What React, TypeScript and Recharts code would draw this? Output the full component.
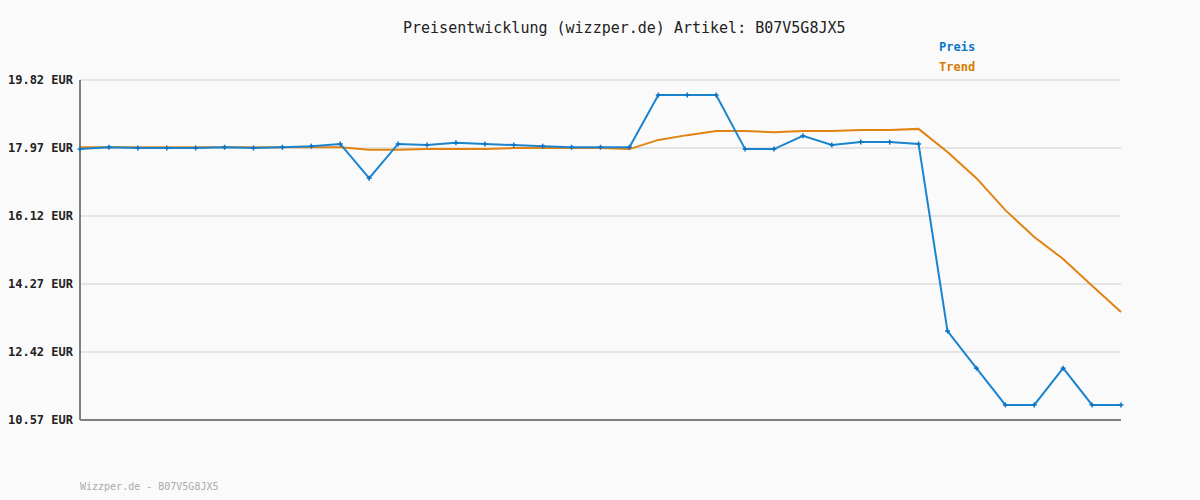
import React from 'react';
import { LineChart, Line, XAxis, YAxis, CartesianGrid, ReferenceLine } from 'recharts';

const preis = [
  17.94, 17.99, 17.97, 17.97, 17.97, 17.99, 17.97, 17.99, 18.02, 18.08,
  17.15, 18.08, 18.05, 18.11, 18.08, 18.05, 18.02, 17.99, 17.99, 17.99,
  19.41, 19.41, 19.41, 17.94, 17.94, 18.30, 18.05, 18.13, 18.13, 18.08,
  12.99, 11.98, 10.98, 10.98, 11.98, 10.98, 10.98,
];
const trend = [
  17.99, 17.99, 17.99, 17.99, 17.99, 17.99, 17.99, 17.99, 17.99, 17.99,
  17.92, 17.92, 17.94, 17.94, 17.94, 17.97, 17.97, 17.97, 17.97, 17.94,
  18.19, 18.32, 18.43, 18.43, 18.40, 18.43, 18.43, 18.46, 18.46, 18.49,
  17.86, 17.15, 16.28, 15.55, 14.95, 14.22, 13.51,
];
const yTicks = [10.57, 12.42, 14.27, 16.12, 17.97, 19.82];
const title = 'Preisentwicklung (wizzper.de) Artikel: B07V5G8JX5';
const footer = 'Wizzper.de - B07V5G8JX5';

const data = preis.map((p, i) => ({ i, preis: p, trend: trend[i] }));

const BLUE = '#1a84cf';
const ORANGE = '#e08312';
const MONO = '"DejaVu Sans Mono", "Liberation Mono", monospace';

const PlusDot = (props: any) => {
  const { cx, cy } = props;
  if (cx == null || cy == null) return null;
  return (
    <g>
      <line x1={cx - 2.5} y1={cy} x2={cx + 2.5} y2={cy} stroke="#0b74c4" strokeWidth={1.5} />
      <line x1={cx} y1={cy - 2.5} x2={cx} y2={cy + 2.5} stroke="#0b74c4" strokeWidth={1.5} />
    </g>
  );
};

export default function App() {
  return (
    <div style={{ position: 'absolute', left: 0, top: 0, width: 1200, height: 500, background: '#fafafa', fontFamily: MONO }}>
      <div style={{ position: 'absolute', left: 403, top: 18, whiteSpace: 'nowrap', fontSize: 15, color: '#222', lineHeight: '20px' }}>
        {title}
      </div>
      <div style={{ position: 'absolute', left: 939, top: 39, fontSize: 12, fontWeight: 'bold', color: '#0a78c8', lineHeight: '16px' }}>Preis</div>
      <div style={{ position: 'absolute', left: 939, top: 59, fontSize: 12, fontWeight: 'bold', color: '#d97a00', lineHeight: '16px' }}>Trend</div>
      <div style={{ position: 'absolute', left: 80, top: 480, fontSize: 10, color: '#aaa', lineHeight: '14px' }}>{footer}</div>
      <LineChart width={1200} height={500} data={data} margin={{ top: 80, right: 79, bottom: 80, left: 0 }} style={{ position: 'absolute', left: 0, top: 0 }}>
        <CartesianGrid horizontal vertical={false} stroke="#e4e4e4" strokeWidth={2} />
        <XAxis dataKey="i" type="number" domain={[0, 36]} hide />
        <YAxis
          width={80}
          domain={[10.57, 19.82]}
          ticks={yTicks}
          interval={0}
          axisLine={{ stroke: '#808080', strokeWidth: 2 }}
          tickLine={false}
          tickSize={0}
          tickMargin={7}
          tickFormatter={(v: number) => v.toFixed(2) + ' EUR'}
          tick={{ fill: '#222', fontSize: 12, fontWeight: 'bold', fontFamily: MONO }}
        />
        <ReferenceLine y={10.57} stroke="#808080" strokeWidth={2} />
        <Line type="linear" dataKey="trend" stroke={ORANGE} strokeWidth={2} dot={false} isAnimationActive={false} />
        <Line type="linear" dataKey="preis" stroke={BLUE} strokeWidth={2} dot={<PlusDot />} activeDot={false} isAnimationActive={false} />
      </LineChart>
    </div>
  );
}
